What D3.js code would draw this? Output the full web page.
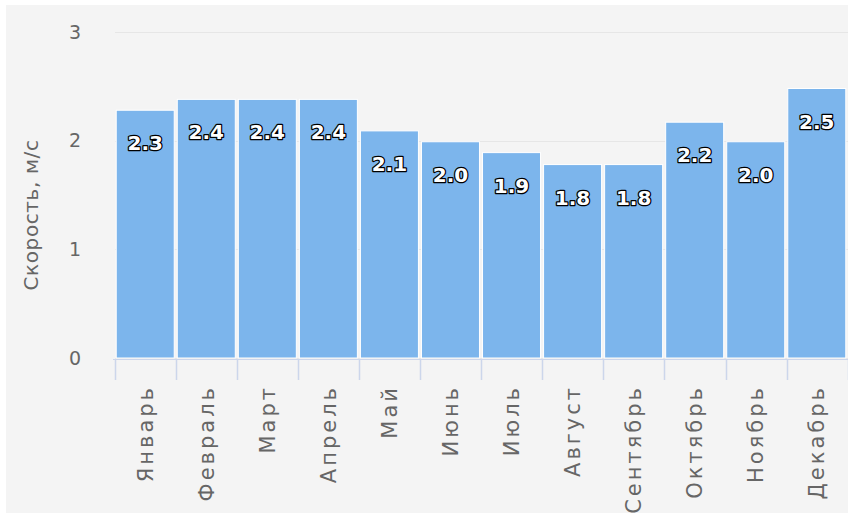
<!DOCTYPE html>
<html>
<head>
<meta charset="utf-8">
<script src="https://cdn.jsdelivr.net/npm/d3@7"></script>
<style>
  html, body { margin: 0; padding: 0; background: #ffffff; }
  svg { display: block; }
</style>
</head>
<body>
<svg id="chart" width="848" height="513"></svg>
<script>
const months = ["Январь", "Февраль", "Март", "Апрель", "Май", "Июнь", "Июль", "Август", "Сентябрь", "Октябрь", "Ноябрь", "Декабрь"];
const speeds = [2.28, 2.38, 2.38, 2.38, 2.09, 1.99, 1.89, 1.78, 1.78, 2.17, 1.99, 2.48];
const yTicks = [0, 1, 2, 3];
const yTitle = "Скорость, м/с";

const W = 848, H = 513;
const plot = { left: 115, right: 847, top: 32, bottom: 358 };

const svg = d3.select("#chart");
svg.append("rect").attr("x", 6).attr("y", 5).attr("width", W - 6).attr("height", H - 5).attr("fill", "#f4f4f4");

const x = d3.scaleBand().domain(months).range([plot.left, plot.right]).paddingInner(0.05).paddingOuter(0.02);
const y = d3.scaleLinear().domain([0, 3]).range([plot.bottom, plot.top]);

// gridlines
svg.append("g").selectAll("line").data(yTicks).join("line")
  .attr("x1", plot.left).attr("x2", W)
  .attr("y1", d => Math.round(y(d)) + 0.5).attr("y2", d => Math.round(y(d)) + 0.5)
  .attr("stroke", "#e6e6e6").attr("stroke-width", 1);

// y tick labels
svg.append("g").selectAll("text").data(yTicks).join("text")
  .attr("x", 81).attr("y", d => y(d)).attr("dy", "0.35em")
  .attr("text-anchor", "end")
  .attr("font-family", "DejaVu Sans, sans-serif").attr("font-size", 19)
  .attr("fill", "#666666")
  .text(d => d);

// y title
svg.append("text")
  .attr("transform", `translate(31, ${(y(0) + y(3)) / 2 + 20}) rotate(-90)`)
  .attr("dy", "0.35em")
  .attr("text-anchor", "middle")
  .attr("font-family", "DejaVu Sans, sans-serif").attr("font-size", 20)
  .attr("letter-spacing", 0.6)
  .attr("fill", "#666666")
  .text(yTitle);

// bars
svg.append("g").selectAll("rect").data(months).join("rect")
  .attr("x", d => x(d)).attr("width", x.bandwidth())
  .attr("y", (d, i) => y(speeds[i])).attr("height", (d, i) => y(0) - y(speeds[i]))
  .attr("fill", "#7cb5ec").attr("stroke", "#ffffff").attr("stroke-width", 1);

// x axis line and ticks
const step = x.step();
const edges = d3.range(months.length + 1).map(i => plot.left + i * step);
svg.append("line")
  .attr("x1", plot.left - 2).attr("x2", W)
  .attr("y1", y(0) + 1.5).attr("y2", y(0) + 1.5)
  .attr("stroke", "#ccd6eb").attr("stroke-width", 1);
svg.append("g").selectAll("line").data(edges).join("line")
  .attr("x1", d => Math.round(d) + 0.5).attr("x2", d => Math.round(d) + 0.5)
  .attr("y1", y(0) + 1).attr("y2", y(0) + 22)
  .attr("stroke", "#ccd6eb").attr("stroke-width", 1.5);

// x labels
svg.append("g").selectAll("text").data(months).join("text")
  .attr("transform", d => `translate(${x(d) + x.bandwidth() / 2}, ${y(0) + 27}) rotate(-90)`)
  .attr("dy", "0.35em")
  .attr("text-anchor", "end")
  .attr("font-family", "DejaVu Sans, sans-serif").attr("font-size", 21)
  .attr("letter-spacing", 3)
  .attr("fill", "#666666")
  .text(d => d);

// data labels
svg.append("g").selectAll("text").data(months).join("text")
  .attr("x", d => x(d) + x.bandwidth() / 2)
  .attr("y", (d, i) => y(speeds[i]) + 33)
  .attr("dy", "0.35em")
  .attr("text-anchor", "middle")
  .attr("font-family", "DejaVu Sans, sans-serif").attr("font-size", 20).attr("font-weight", "bold")
  .attr("fill", "#ffffff").attr("stroke", "#000000").attr("stroke-width", 2.5)
  .attr("paint-order", "stroke").attr("stroke-linejoin", "round")
  .text((d, i) => speeds[i].toFixed(1));
</script>
</body>
</html>
